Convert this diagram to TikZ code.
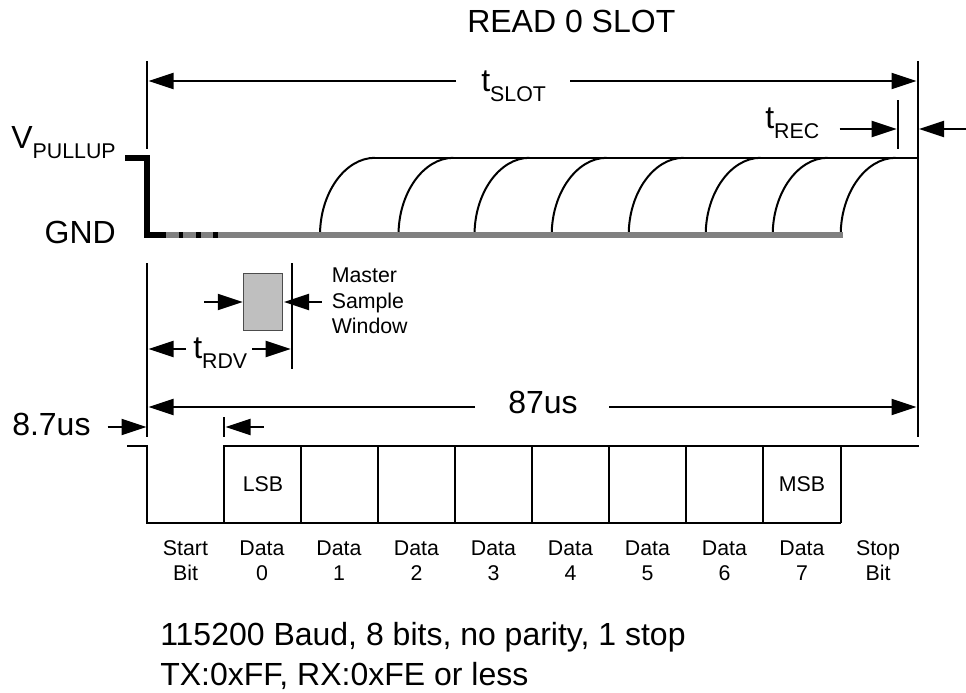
\documentclass[tikz,border=0pt]{standalone}
\usepackage{fontspec}
\setmainfont{Liberation Sans}
\usetikzlibrary{arrows.meta}
\newcommand{\bigf}{\fontsize{24pt}{28pt}\selectfont}
\newcommand{\smallf}{\fontsize{16pt}{19.2pt}\selectfont}
\newcommand{\subt}[1]{\raisebox{-7.8pt}{\smallf #1}}
\tikzset{
  x=0.75pt,y=-0.75pt,
  thin line/.style={line width=1.5pt,black},
  dim/.style={line width=1.5pt,black,-{Triangle[length=18.75pt,width=12pt]}},
  big/.style={font=\bigf,inner sep=0pt,anchor=base west},
  small/.style={font=\smallf,inner sep=0pt,anchor=base},
  wave/.style={line width=1.5pt,black,line join=miter},
  drive/.style={line width=3.8pt,black},
  weak/.style={line width=3.8pt,black!50},
}
\begin{document}
\begin{tikzpicture}
\useasboundingbox (0,0) rectangle (966,692);
% reference lines
\coordinate (L0) at (147,61); \coordinate (L1) at (147,149);
\coordinate (L2) at (147,263); \coordinate (L3) at (147,437);
\coordinate (R0) at (917.5,61); \coordinate (R1) at (917.5,437);
\draw[thin line] (L0)--(L1) (L2)--(L3) (R0)--(R1);
\coordinate (RT0) at (898,100); \coordinate (RT1) at (898,149);
\draw[thin line] (RT0)--(RT1);
\coordinate (ST0) at (291.5,263); \coordinate (ST1) at (291.5,369);
\draw[thin line] (ST0)--(ST1);
\coordinate (DT0) at (224,417); \coordinate (DT1) at (224,437);
\draw[thin line] (DT0)--(DT1);
% labels
\node[big] (title) at (467,33) {READ 0 SLOT};
\node[big] (tslot) at (481,91.5) {t\subt{SLOT}};
\node[big] (trec) at (765,128) {t\subt{REC}};
\node[big,anchor=base east] (vpull) at (116,148) {V\subt{PULLUP}};
\node[big,anchor=base east] (gnd) at (116,243) {GND};
\node[big] (trdv) at (193,358) {t\subt{RDV}};
\node[big] (us87) at (508,413) {87us};
\node[big] (us8) at (12,435) {8.7us};
\node[small,anchor=base west] (m1) at (331.5,282) {Master};
\node[small,anchor=base west] (m2) at (331.5,308) {Sample};
\node[small,anchor=base west] (m3) at (331.5,333) {Window};
% dimension arrows
\coordinate (a1) at (456,81); \coordinate (a2) at (570,81);
\coordinate (a1t) at (148.5,81); \coordinate (a2t) at (916.5,81);
\draw[dim] (a1)--(a1t); \draw[dim] (a2)--(a2t);
\coordinate (b1) at (475,407); \coordinate (b2) at (609,407);
\coordinate (b1t) at (148.5,407); \coordinate (b2t) at (916.5,407);
\draw[dim] (b1)--(b1t); \draw[dim] (b2)--(b2t);
\coordinate (c1) at (186,349); \coordinate (c1t) at (148.5,349);
\coordinate (c2) at (252,349); \coordinate (c2t) at (290.7,349);
\draw[dim] (c1)--(c1t); \draw[dim] (c2)--(c2t);
\coordinate (d1) at (107.7,427); \coordinate (d1t) at (146.5,427);
\coordinate (d2) at (263.5,427); \coordinate (d2t) at (225.5,427);
\draw[dim] (d1)--(d1t); \draw[dim] (d2)--(d2t);
\coordinate (e1) at (839.5,129); \coordinate (e1t) at (896.7,129);
\coordinate (e2) at (966,129); \coordinate (e2t) at (919,129);
\draw[dim] (e1)--(e1t); \draw[dim] (e2)--(e2t);
% sample window
\node[draw=black!70,line width=1pt,fill=black!25,minimum width=29.25pt,minimum height=43pt,inner sep=0pt] (win) at (263,302) {};
\coordinate (f1) at (204,302); \coordinate (f2) at (321.7,302);
\coordinate (f2t) at (284,302);
\draw[dim] (f1)--(win.west); \draw[dim] (f2)--(f2t);
% waveform
\draw[wave] (375,157.8)--(918,157.8);
\foreach \s in {320,398.5,474.5,551.7,628.7,705.7,772.7,840.7}{
  \draw[wave] (\s,235) .. controls (\s,193) and ({\s+25},157.8) .. ({\s+55},157.8);
}
\draw[weak] (166,235)--(843,235);
\draw[drive] (125,158)--(147,158)--(147,235)--(166,235);
\foreach \s/\e in {179/183,196/200.5,213/218}{ \draw[line width=3.8pt,black] (\s,235)--(\e,235); }
% bit frame
\draw[wave] (127,446)--(147,446)--(147,522.7)--(224,522.7)--(224,446)--(919,446);
\draw[wave] (224,522.7)--(840.7,522.7);
\foreach \x in {301,378.3,455,532,609,686,763.3,840.7}{
  \draw[wave] (\x,446)--(\x,522.7);
}
\node[small] (lsb) at (263,491) {LSB};
\node[small] (msb) at (802,491) {MSB};
\node[small] (sb1) at (185.5,555) {Start};
\node[small] (sb2) at (185.5,580) {Bit};
\foreach \c/\n [count=\i] in {262/0,339/1,416.5/2,493.5/3,570.5/4,647.5/5,724.5/6,802/7}{
  \node[small] (dl\i) at (\c,555) {Data};
  \node[small] (dn\i) at (\c,580) {\n};
}
\node[small] (st1) at (878,555) {Stop};
\node[small] (st2) at (878,580) {Bit};
\node[big] (n1) at (160,645) {115200 Baud, 8 bits, no parity, 1 stop};
\node[big] (n2) at (160,685) {TX:0xFF, RX:0xFE or less};
\end{tikzpicture}
\end{document}
